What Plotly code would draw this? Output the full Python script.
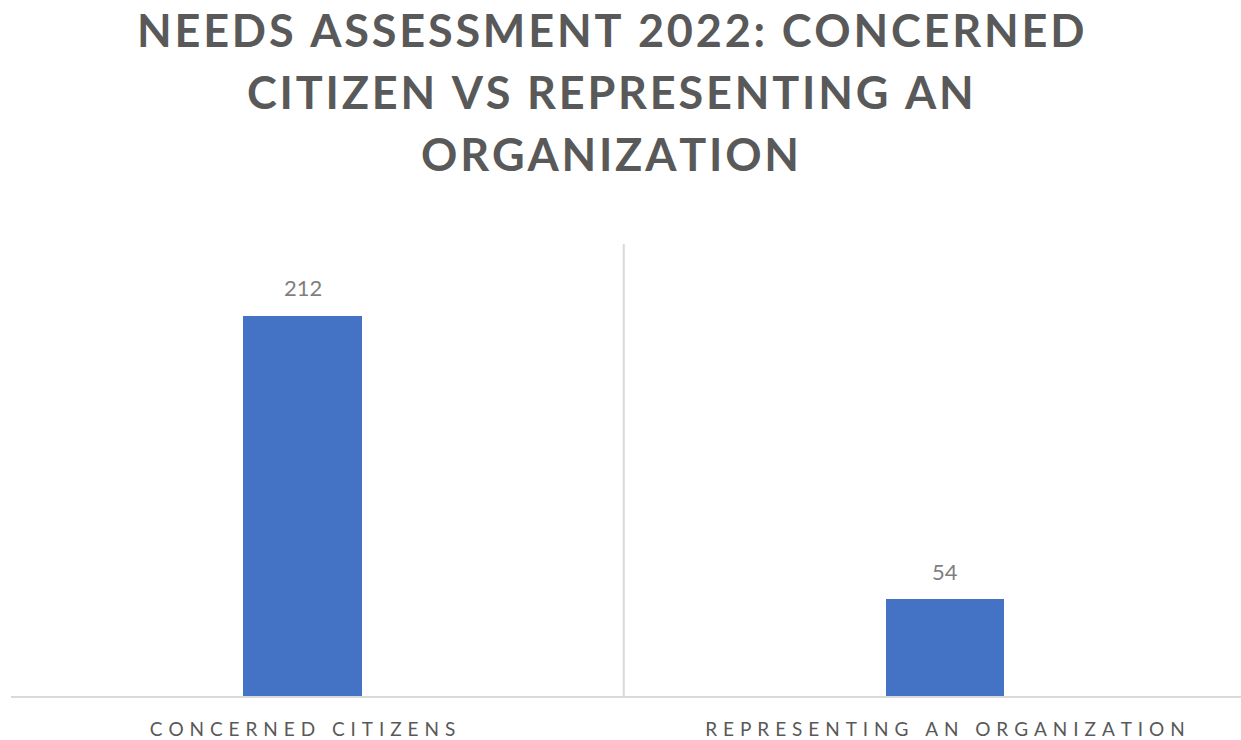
import plotly.graph_objects as go

categories = ["CONCERNED CITIZENS", "REPRESENTING AN ORGANIZATION"]
values = [212, 54]
title_lines = ["NEEDS ASSESSMENT 2022: CONCERNED", "CITIZEN VS REPRESENTING AN", "ORGANIZATION"]

HAIR = "\u200a"
THIN = "\u2009"

def spaced(s, sep):
    out = []
    for w in s.split(" "):
        out.append(sep.join(list(w)))
    return (sep + " " + sep).join(out)

tick_text = [spaced(c, THIN + HAIR * 3) for c in categories]
xpos = list(range(len(categories)))

fig = go.Figure()
fig.add_trace(go.Bar(
    x=xpos, y=values, width=0.184,
    marker=dict(color="#4472C4", line=dict(width=0)),
    hoverinfo="skip",
))

for i, v in enumerate(values):
    fig.add_annotation(x=xpos[i], y=v, xref="x", yref="y", text=str(v), showarrow=False,
                       yanchor="middle", yshift=28,
                       font=dict(family="Lato", size=22, color="#7F7F7F"))

# title lines
plot_top, plot_bottom = 244, 696
line_centers = [30, 92, 154]
for line, py in zip(title_lines, line_centers):
    fig.add_annotation(x=0.487, xref="paper", y=(plot_bottom - py) / (plot_bottom - plot_top),
                       yref="paper", text=spaced(line, HAIR), showarrow=False,
                       xanchor="center", yanchor="middle",
                       font=dict(family="Lato", size=45, color="#595959", weight="bold"))

fig.add_shape(type="line", xref="x", yref="paper", x0=0.5, x1=0.5, y0=0, y1=1,
              line=dict(color="#D9D9D9", width=2))

fig.update_layout(
    width=1241, height=740,
    margin=dict(l=11, r=0, t=244, b=44),
    paper_bgcolor="white", plot_bgcolor="white",
    showlegend=False,
    xaxis=dict(range=[-0.4537, 1.4607], tickmode="array", tickvals=xpos, ticktext=tick_text,
               showgrid=False, zeroline=False, showline=True, linecolor="#D9D9D9", linewidth=2,
               ticks="", ticklabelstandoff=15,
               tickfont=dict(family="Lato", size=19, color="#595959")),
    yaxis=dict(range=[0, 252], visible=False, showgrid=False, zeroline=False),
    bargap=0,
)

fig.write_html("out.html")
